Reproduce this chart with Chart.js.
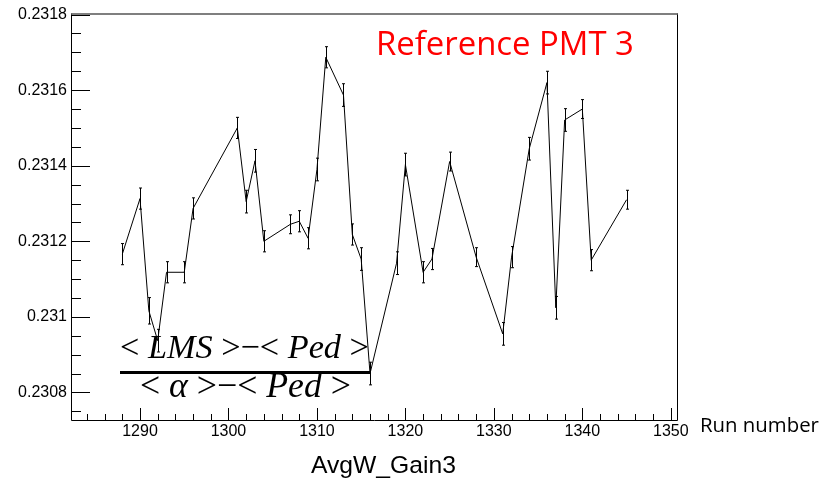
<!DOCTYPE html>
<html>
<head>
<meta charset="utf-8">
<script src="https://cdn.jsdelivr.net/npm/chart.js"></script>
<style>
  body { margin: 0; background: #fff; }
  #wrap { width: 832px; height: 480px; }
</style>
</head>
<body>
<div id="wrap"><canvas id="chart" width="832" height="480"></canvas></div>
<script>
// run numbers and the averaged gain
var runs = [1288, 1290, 1291, 1292, 1293, 1295, 1296, 1301, 1302, 1303, 1304, 1307, 1308, 1309,
            1310, 1311, 1313, 1314, 1315, 1316, 1319, 1320, 1322, 1323, 1325, 1328, 1331, 1332,
            1334, 1336, 1337, 1338, 1340, 1341, 1345];
var gains = [0.231166, 0.231313, 0.231016, 0.230937, 0.231118, 0.231118, 0.231287, 0.231500, 0.231305, 0.231413,
             0.231200, 0.231245, 0.231253, 0.231208, 0.231390, 0.231687, 0.231587, 0.231218, 0.231153, 0.230850,
             0.231142, 0.231403, 0.231118, 0.231153, 0.231411, 0.231158, 0.230955, 0.231158, 0.231445, 0.231620,
             0.231024, 0.231521, 0.231550, 0.231150, 0.231310];
var errors = [0.000028, 0.000028, 0.000035, 0.000030, 0.000028, 0.000028, 0.000028, 0.000028, 0.000030, 0.000030,
              0.000028, 0.000025, 0.000028, 0.000028, 0.000030, 0.000028, 0.000030, 0.000028, 0.000030, 0.000030,
              0.000030, 0.000030, 0.000028, 0.000028, 0.000025, 0.000025, 0.000030, 0.000028, 0.000030, 0.000030,
              0.000030, 0.000030, 0.000025, 0.000028, 0.000025];
var xTicks = [1290, 1300, 1310, 1320, 1330, 1340, 1350];
var yTicks = [0.2308, 0.2310, 0.2312, 0.2314, 0.2316, 0.2318];

var points = runs.map(function (r, i) { return { x: r, y: gains[i] }; });

// draw a run of text pieces (some italic) scaled to a given width
function fitPieces(ctx, pieces, left, baseline, width, family) {
    var base = 20, total = 0;
    pieces.forEach(function (p) {
        ctx.font = (p.it ? 'italic ' : '') + base + 'px ' + family;
        total += ctx.measureText(p.t).width;
    });
    var size = base * width / total;
    var x = left;
    pieces.forEach(function (p) {
        ctx.font = (p.it ? 'italic ' : '') + size + 'px ' + family;
        ctx.fillText(p.t, x, baseline);
        x += ctx.measureText(p.t).width;
    });
}
function fitText(ctx, text, left, baseline, width, family, color) {
    ctx.font = '20px ' + family;
    var size = 20 * width / ctx.measureText(text).width;
    ctx.font = size + 'px ' + family;
    ctx.fillStyle = color;
    ctx.fillText(text, left, baseline);
}

var rootStyle = {
    id: 'rootStyle',
    afterDatasetsDraw: function (chart) {
        var ctx = chart.ctx, xs = chart.scales.x, ys = chart.scales.y, a = chart.chartArea;
        ctx.save();
        // error bars
        ctx.strokeStyle = '#000';
        ctx.lineWidth = 1;
        runs.forEach(function (r, i) {
            var px = Math.round(xs.getPixelForValue(r)) + 0.5;
            var y1 = ys.getPixelForValue(gains[i] + errors[i]);
            var y2 = ys.getPixelForValue(gains[i] - errors[i]);
            ctx.beginPath();
            ctx.moveTo(px, y1); ctx.lineTo(px, y2);
            ctx.moveTo(px - 1.5, y1); ctx.lineTo(px + 1.5, y1);
            ctx.moveTo(px - 1.5, y2); ctx.lineTo(px + 1.5, y2);
            ctx.stroke();
        });
        // frame
        ctx.strokeStyle = '#000';
        ctx.beginPath();
        ctx.moveTo(a.left + 0.5, a.top); ctx.lineTo(a.left + 0.5, a.bottom + 0.5);
        ctx.lineTo(a.right + 0.5, a.bottom + 0.5); ctx.lineTo(a.right + 0.5, a.top);
        ctx.stroke();
        ctx.strokeStyle = '#555';
        ctx.lineWidth = 1.5;
        ctx.beginPath();
        ctx.moveTo(a.left, a.top + 0.5); ctx.lineTo(a.right + 1, a.top + 0.5);
        ctx.stroke();
        // tick marks pointing inwards
        ctx.strokeStyle = '#000';
        ctx.lineWidth = 1;
        ctx.beginPath();
        for (var v = 1284; v <= 1350; v += 2) {
            var px = Math.round(xs.getPixelForValue(v)) + 0.5;
            var len = (v % 10 === 0) ? 12 : 6;
            ctx.moveTo(px, a.bottom); ctx.lineTo(px, a.bottom - len);
        }
        for (var k = 0; k <= 21; k++) {
            var yv = 0.23075 + k * 0.00005;
            if (yv > ys.max) break;
            var py = Math.round(ys.getPixelForValue(yv)) + 0.5;
            var ylen = (k % 4 === 1) ? 19 : 10;
            ctx.moveTo(a.left, py); ctx.lineTo(a.left + ylen, py);
        }
        ctx.stroke();

        // labels
        ctx.textBaseline = 'alphabetic';
        ctx.textAlign = 'left';
        fitText(ctx, 'Reference PMT 3', 376, 55, 258, '"Open Sans", sans-serif', '#ff0000');
        fitText(ctx, 'Run number', 700, 432, 119, '"Open Sans", sans-serif', '#000');
        fitText(ctx, 'AvgW_Gain3', 311, 473, 145, '"Liberation Sans", Arial, sans-serif', '#000');

        ctx.fillStyle = '#000';
        var serif = '"Liberation Serif", serif';
        fitPieces(ctx, [{ t: '< ' }, { t: 'LMS', it: true }, { t: ' >\u2212< ' }, { t: 'Ped', it: true }, { t: ' >' }],
                  120, 358, 249, serif);
        fitPieces(ctx, [{ t: '< ' }, { t: '\u03b1', it: true }, { t: ' >\u2212< ' }, { t: 'Ped', it: true }, { t: ' >' }],
                  140, 397, 211, serif);
        ctx.fillRect(120, 371, 251, 3);
        ctx.restore();
    }
};

var ctx = document.getElementById('chart').getContext('2d');
new Chart(ctx, {
    type: 'scatter',
    data: {
        datasets: [{
            data: points,
            showLine: true,
            borderColor: '#000',
            borderWidth: 1,
            pointRadius: 0,
            tension: 0
        }]
    },
    options: {
        responsive: false,
        animation: false,
        layout: { padding: { left: 0, top: 11, right: 155, bottom: 0 } },
        plugins: { legend: { display: false }, tooltip: { enabled: false } },
        scales: {
            x: {
                type: 'linear',
                min: 1282.2,
                max: 1350.7,
                afterBuildTicks: function (s) { s.ticks = xTicks.map(function (v) { return { value: v }; }); },
                afterFit: function (s) { s.height = 60; },
                grid: { display: false, drawTicks: false },
                border: { display: false },
                ticks: {
                    color: '#000',
                    padding: 2,
                    maxRotation: 0,
                    font: { family: '"Liberation Sans", Arial, sans-serif', size: 16 },
                    callback: function (v) { return String(v); }
                }
            },
            y: {
                min: 0.230727,
                max: 0.2318026,
                afterBuildTicks: function (s) { s.ticks = yTicks.map(function (v) { return { value: v }; }); },
                afterFit: function (s) { s.width = 71; },
                grid: { display: false, drawTicks: false },
                border: { display: false },
                ticks: {
                    color: '#000',
                    padding: 4,
                    font: { family: '"Liberation Sans", Arial, sans-serif', size: 16 },
                    callback: function (v) { return String(+v.toFixed(4)); }
                }
            }
        }
    },
    plugins: [rootStyle]
});
</script>
</body>
</html>
